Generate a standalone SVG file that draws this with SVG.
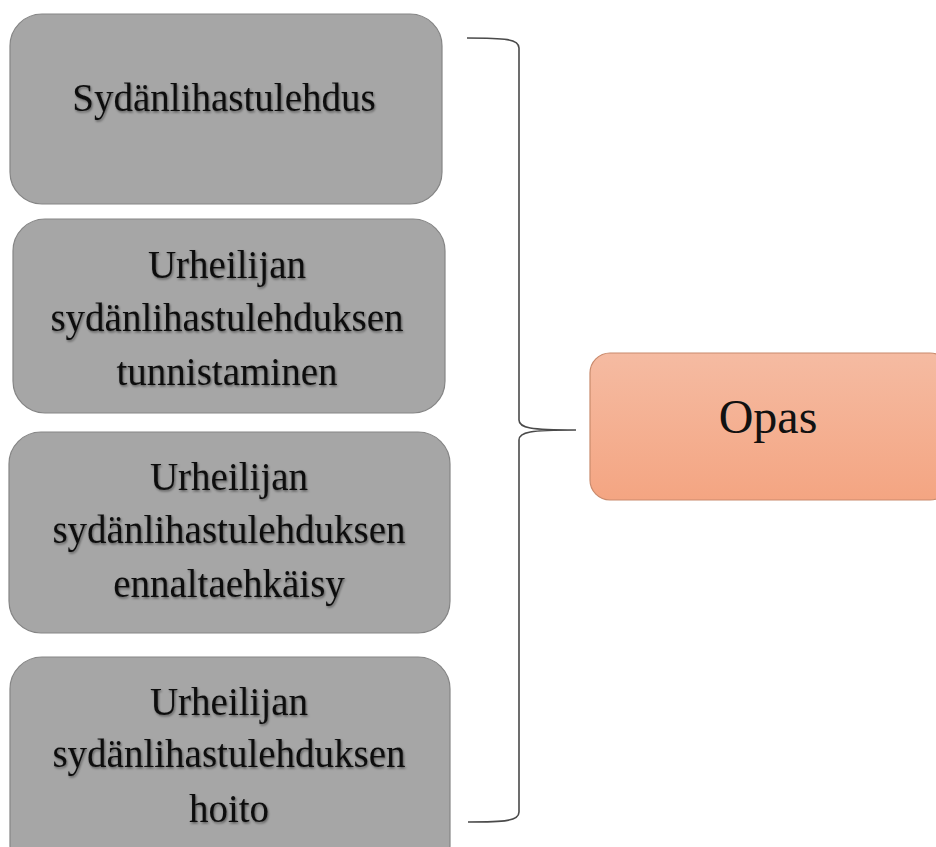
<svg xmlns="http://www.w3.org/2000/svg" width="936" height="847" viewBox="0 0 936 847">
<defs>
<linearGradient id="og" x1="0" y1="0" x2="0" y2="1">
<stop offset="0" stop-color="#F5BBA2"/>
<stop offset="1" stop-color="#F4A582"/>
</linearGradient>
<filter id="sh" x="-5%" y="-20%" width="110%" height="140%">
<feDropShadow dx="1" dy="1.5" stdDeviation="1" flood-color="#000" flood-opacity="0.45"/>
</filter>
</defs>
<style>
.box{fill:#A6A6A6;stroke:#858585;stroke-width:1.2}
.t{font-family:"Liberation Serif","Times New Roman",serif;font-size:39px;fill:#111;text-anchor:middle}
.sh{filter:url(#sh)}
.opas{fill:url(#og);stroke:#C98A6C;stroke-width:1.2}
.br{fill:none;stroke:#4a4a4a;stroke-width:1.6}
</style>
<rect width="936" height="847" fill="#fff"/>
<g id="node1">
<rect class="box" x="10" y="14" width="432" height="190" rx="32"/>
<text class="t sh" x="224" y="111">Sydänlihastulehdus</text>
</g>
<g id="node2">
<rect class="box" x="13" y="219" width="432" height="194" rx="32"/>
<text class="t sh" x="227" y="278">Urheilijan</text>
<text class="t sh" x="227" y="331">sydänlihastulehduksen</text>
<text class="t sh" x="227" y="385">tunnistaminen</text>
</g>
<g id="node3">
<rect class="box" x="9" y="432" width="441" height="201" rx="32"/>
<text class="t sh" x="229" y="490">Urheilijan</text>
<text class="t sh" x="229" y="543">sydänlihastulehduksen</text>
<text class="t sh" x="229" y="597">ennaltaehkäisy</text>
</g>
<g id="node4">
<rect class="box" x="10" y="657" width="440" height="220" rx="32"/>
<text class="t sh" x="229" y="715">Urheilijan</text>
<text class="t sh" x="229" y="767">sydänlihastulehduksen</text>
<text class="t sh" x="229" y="822">hoito</text>
</g>
<g id="connectors">
<path class="br" d="M467,38 C505,38 519,39 519,48 L519,420 C519,428 530,430 576,430 C530,430 519,432 519,440 L519,812 C519,821 505,822 468,822"/>
</g>
<g id="opas">
<rect class="opas" x="590" y="353" width="360" height="147" rx="20"/>
<text x="768" y="433" font-family="Liberation Serif, Times New Roman, serif" font-size="48" fill="#111" text-anchor="middle">Opas</text>
</g>
</svg>
